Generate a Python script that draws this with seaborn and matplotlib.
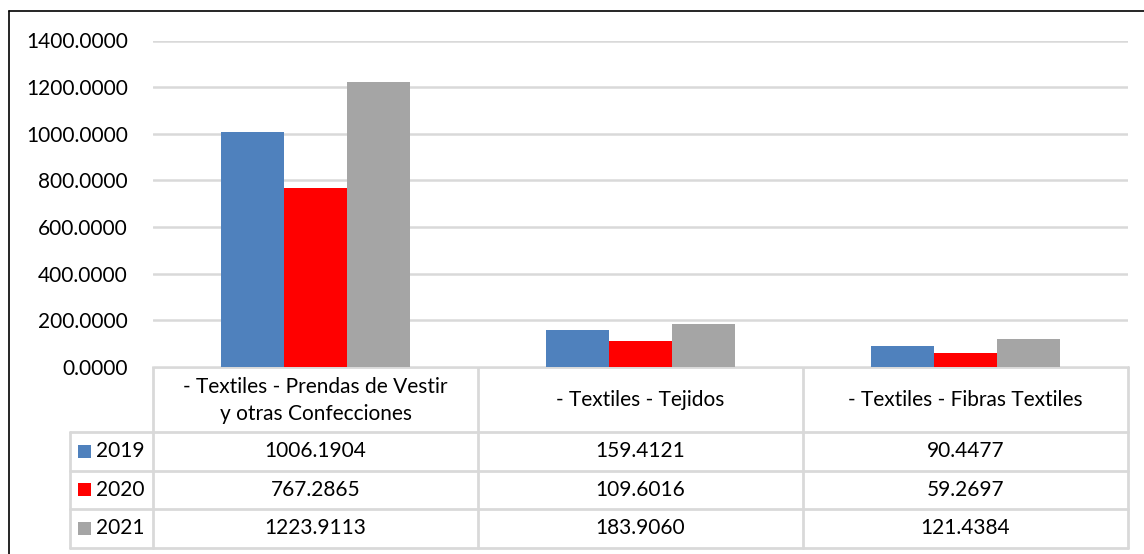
import matplotlib
matplotlib.use('Agg')
import matplotlib.pyplot as plt
import matplotlib.transforms as mtransforms
from matplotlib.patches import Rectangle
import numpy as np
import pandas as pd
import seaborn as sns

categorias = ['- Textiles - Prendas de Vestir\ny otras Confecciones',
              '- Textiles - Tejidos',
              '- Textiles - Fibras Textiles']
anios = ['2019', '2020', '2021']
valores_2019 = [1006.1904, 159.4121, 90.4477]
valores_2020 = [767.2865, 109.6016, 59.2697]
valores_2021 = [1223.9113, 183.9060, 121.4384]
colores = ['#4F81BD', '#FF0000', '#A5A5A5']

W, H = 1144, 554
FONT = 'Lato'
FS = 15
GRID = '#d9d9d9'

sns.set_theme(style='white')
plt.rcParams['font.family'] = [FONT, 'DejaVu Sans']

series = {'2019': valores_2019, '2020': valores_2020, '2021': valores_2021}
df = pd.DataFrame([(c, a, v) for a in anios for c, v in zip(categorias, series[a])],
                  columns=['categoria', 'anio', 'valor'])

fig = plt.figure(figsize=(W / 100, H / 100), dpi=100)

# overlay in pixel coords for table and frame
tab = fig.add_axes([0, 0, 1, 1])
tab.set_xlim(0, W)
tab.set_ylim(H, 0)
tab.axis('off')

left, right, top, bottom = 153, 1128, 40.5, 367
ax = fig.add_axes([left / W, 1 - bottom / H, (right - left) / W, (bottom - top) / H])
sns.barplot(data=df, x='categoria', y='valor', hue='anio', hue_order=anios,
            palette=colores, saturation=1, width=0.58, gap=0, legend=False, ax=ax)
ax.set_xlim(-0.5, 2.5)
ax.set_ylim(0, 1400)
ax.set_yticks(np.arange(0, 1401, 200))
ax.set_yticklabels(['{:.4f}'.format(t) for t in np.arange(0, 1401, 200)], fontsize=FS, color='black')
ax.set_xticks([])
ax.set_xlabel('')
ax.set_ylabel('')
ax.yaxis.grid(True, color=GRID, lw=1.8)
ax.set_axisbelow(True)
ax.tick_params(axis='y', length=0, pad=18)
for s in ax.spines.values():
    s.set_visible(False)
for p in ax.patches:
    p.set_edgecolor('none')

# outer frame (clipped on right and bottom like the source)
tab.plot([9, W], [11, 11], color='black', lw=1.2)
tab.plot([9, 9], [11, H], color='black', lw=1.2)

# data table
blend = mtransforms.blended_transform_factory(ax.transData, tab.transData)
rows_y = [367, 432, 470.5, 509, 547.5]
tlw = 2
tab.plot([left, right], [rows_y[0], rows_y[0]], color=GRID, lw=tlw)
for y in rows_y[1:]:
    tab.plot([70, right], [y, y], color=GRID, lw=tlw)
for i in range(len(categorias) + 1):
    x = left + i * (right - left) / len(categorias)
    tab.plot([x, x], [rows_y[0], rows_y[-1]], color=GRID, lw=tlw)
tab.plot([70, 70], [rows_y[1], rows_y[-1]], color=GRID, lw=tlw)

for i, c in enumerate(categorias):
    ax.text(i, (rows_y[0] + rows_y[1]) / 2 + 1, c, transform=blend, ha='center', va='center',
            fontsize=FS, linespacing=1.45, color='black')
    for j, a in enumerate(anios):
        yc = (rows_y[j + 1] + rows_y[j + 2]) / 2
        ax.text(i, yc, '{:.4f}'.format(series[a][i]), transform=blend, ha='center', va='center',
                fontsize=FS, color='black')

for j, a in enumerate(anios):
    yc = (rows_y[j + 1] + rows_y[j + 2]) / 2
    tab.add_patch(Rectangle((78, yc - 6.5), 13, 13, color=colores[j], lw=0))
    tab.text(96, yc, a, ha='left', va='center', fontsize=FS, color='black')

fig.savefig('out.png', dpi=100)
